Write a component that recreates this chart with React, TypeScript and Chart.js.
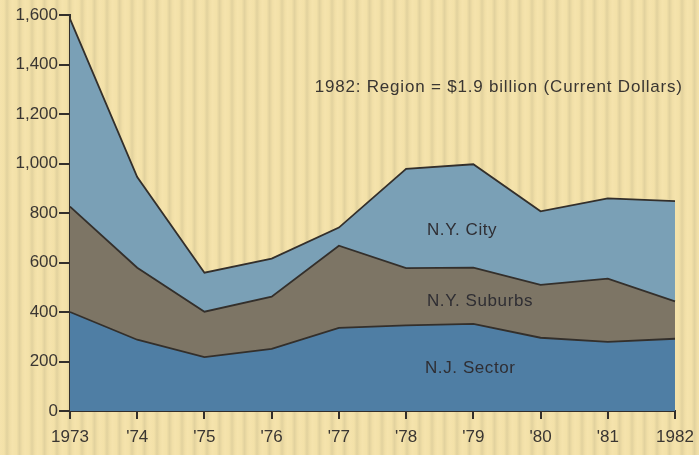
import React, { useEffect, useRef } from "react";
import { Chart, registerables } from "chart.js";

Chart.register(...registerables);

const categories = ["1973", "'74", "'75", "'76", "'77", "'78", "'79", "'80", "'81", "1982"];
const njSector = [400, 288, 218, 251, 336, 346, 352, 296, 279, 292];
const nySuburbs = [426, 291, 183, 211, 332, 231, 227, 214, 256, 151];
const nyCity = [758, 366, 158, 154, 73, 401, 418, 297, 324, 405];
const yTicks = [0, 200, 400, 600, 800, 1000, 1200, 1400, 1600];
const seriesLabels = ["N.J. Sector", "N.Y. Suburbs", "N.Y. City"];
const note = "1982: Region = $1.9 billion (Current Dollars)";

const INK = "#332f2b";
const FONT = "'Liberation Sans', Arial, sans-serif";

const labelPlugin = {
  id: "areaLabels",
  afterDatasetsDraw(chart: any) {
    const { ctx, scales } = chart;
    const x = scales.x;
    const y = scales.y;
    ctx.save();
    ctx.fillStyle = "#2f2e33";
    ctx.textBaseline = "middle";
    ctx.textAlign = "left";
    ctx.font = `17px ${FONT}`;
    (ctx as any).letterSpacing = "0.6px";
    ctx.fillText(seriesLabels[2], x.getPixelForValue(5.31), y.getPixelForValue(729));
    ctx.fillText(seriesLabels[1], x.getPixelForValue(5.31), y.getPixelForValue(445));
    ctx.fillText(seriesLabels[0], x.getPixelForValue(5.28), y.getPixelForValue(174));
    ctx.fillStyle = "#3a3632";
    ctx.font = `17px ${FONT}`;
    (ctx as any).letterSpacing = "0.8px";
    ctx.fillText(note, x.getPixelForValue(3.64), y.getPixelForValue(1306));
    ctx.restore();
  },
};

export default function App() {
  const ref = useRef<HTMLCanvasElement>(null);
  useEffect(() => {
    document.body.style.margin = "0";
    const common = {
      borderColor: INK,
      borderWidth: 1.8,
      pointRadius: 0,
      tension: 0,
    };
    const chart = new Chart(ref.current!, {
      type: "line",
      data: {
        labels: categories,
        datasets: [
          { ...common, label: seriesLabels[0], data: njSector, backgroundColor: "#4f7ea4", fill: "origin" },
          { ...common, label: seriesLabels[1], data: nySuburbs, backgroundColor: "#7d7565", fill: "-1" },
          { ...common, label: seriesLabels[2], data: nyCity, backgroundColor: "#7aa0b6", fill: "-1" },
        ],
      },
      options: {
        animation: false,
        responsive: false,
        maintainAspectRatio: false,
        layout: { padding: { top: 15, right: 24, bottom: 0, left: 0 } },
        plugins: { legend: { display: false }, tooltip: { enabled: false } },
        scales: {
          x: {
            type: "category",
            offset: false,
            grid: {
              display: true,
              drawOnChartArea: false,
              drawTicks: true,
              tickLength: 8,
              color: INK,
              lineWidth: 2,
            },
            border: { display: true, color: INK, width: 2 },
            ticks: {
              color: "#3a3632",
              font: { family: FONT, size: 17 },
              padding: 8,
              maxRotation: 0,
              autoSkip: false,
            },
            afterFit(scale: any) {
              scale.height = 44;
              scale.paddingRight = 0;
              scale.paddingLeft = 0;
            },
          },
          y: {
            stacked: true,
            min: 0,
            max: 1600,
            afterBuildTicks(scale: any) {
              scale.ticks = yTicks.map((v) => ({ value: v }));
            },
            grid: {
              display: true,
              drawOnChartArea: false,
              drawTicks: true,
              tickLength: 11,
              color: INK,
              lineWidth: 2,
            },
            border: { display: true, color: INK, width: 2 },
            ticks: {
              color: "#3a3632",
              font: { family: FONT, size: 17 },
              padding: 1,
              callback: (v: any) => Number(v).toLocaleString("en-US"),
            },
            afterFit(scale: any) {
              scale.width = 70;
              scale.paddingTop = 0;
            },
          },
        },
      },
      plugins: [labelPlugin],
    });
    return () => chart.destroy();
  }, []);

  return (
    <div
      style={{
        width: 699,
        height: 455,
        background:
          "repeating-linear-gradient(90deg, #f5e3ac 0px, #f3e1a8 4px, #e2d29e 7px, #f1dfa7 10px, #f5e3ac 12.5px)",
      }}
    >
      <canvas ref={ref} width={699} height={455} style={{ display: "block" }} />
    </div>
  );
}
